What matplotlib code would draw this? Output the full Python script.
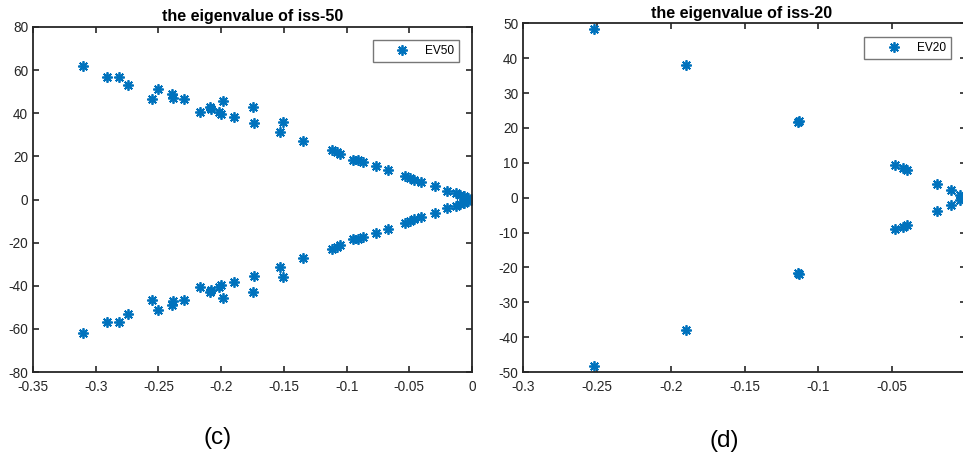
import matplotlib
matplotlib.use("Agg")
import matplotlib.pyplot as plt

plt.rcParams['font.family'] = ['Liberation Sans', 'DejaVu Sans']
plt.rcParams['axes.unicode_minus'] = False

# iss-50 eigenvalues (real, imag)
ev50_re = [-0.3105, -0.2913, -0.2817, -0.2746, -0.2549, -0.2507, -0.2390, -0.2384,
           -0.2299, -0.2166, -0.2087, -0.2081, -0.2017, -0.2004, -0.1986, -0.1898,
           -0.1749, -0.1741, -0.1534, -0.1510, -0.1350, -0.1114, -0.1079, -0.1053,
           -0.0952, -0.0912, -0.0872, -0.0766, -0.0670, -0.0532, -0.0494, -0.0463,
           -0.0409, -0.0292, -0.0197, -0.0130, -0.0096, -0.0061, -0.0030, -0.0010,
           -0.3105, -0.2913, -0.2817, -0.2746, -0.2549, -0.2507, -0.2390, -0.2384,
           -0.2299, -0.2166, -0.2087, -0.2081, -0.2017, -0.2004, -0.1986, -0.1898,
           -0.1749, -0.1741, -0.1534, -0.1510, -0.1350, -0.1114, -0.1079, -0.1053,
           -0.0952, -0.0912, -0.0872, -0.0766, -0.0670, -0.0532, -0.0494, -0.0463,
           -0.0409, -0.0292, -0.0197, -0.0130, -0.0096, -0.0061, -0.0030, -0.0010]
ev50_im = [62.0, 56.6, 56.6, 53.0, 46.8, 51.2, 48.8, 47.3,
           46.4, 40.5, 43.0, 42.1, 40.6, 39.6, 45.8, 38.4,
           43.0, 35.4, 31.2, 35.8, 27.3, 22.9, 22.2, 21.3,
           18.5, 18.4, 17.6, 15.7, 13.9, 11.1, 10.1, 9.2,
           8.3, 6.1, 3.9, 3.1, 2.3, 1.4, 0.6, 0.1,
           -62.0, -56.6, -56.6, -53.0, -46.8, -51.2, -48.8, -47.3,
           -46.4, -40.5, -43.0, -42.1, -40.6, -39.6, -45.8, -38.4,
           -43.0, -35.4, -31.2, -35.8, -27.3, -22.9, -22.2, -21.3,
           -18.5, -18.4, -17.6, -15.7, -13.9, -11.1, -10.1, -9.2,
           -8.3, -6.1, -3.9, -3.1, -2.3, -1.4, -0.6, -0.1]

# iss-20 eigenvalues (real, imag)
ev20_re = [-0.2518, -0.1899, -0.1137, -0.1133, -0.0478, -0.0424, -0.0401, -0.0196, -0.0103, -0.0041,
           -0.2518, -0.1899, -0.1137, -0.1133, -0.0478, -0.0424, -0.0401, -0.0196, -0.0103, -0.0041]
ev20_im = [48.3, 38.0, 21.6, 21.9, 9.5, 8.4, 7.9, 4.0, 2.2, 0.9,
           -48.3, -38.0, -21.6, -21.9, -9.0, -8.3, -7.8, -3.7, -2.0, -0.8]

titles = ["the eigenvalue of iss-50", "the eigenvalue of iss-20"]
labels = ["EV50", "EV20"]
captions = ["(c)", "(d)"]

blue = '#0072BD'
fig = plt.figure(figsize=(9.63, 4.57), dpi=100)
ax1 = fig.add_axes([33/963, 85/457, 439/963, 345/457])
ax2 = fig.add_axes([523/963, 85/457, 443/963, 348.7/457])

def style(ax):
    for s in ax.spines.values():
        s.set_linewidth(1.3)
        s.set_color('#262626')
    ax.tick_params(direction='in', top=True, right=True, length=4, width=1.2,
                   labelsize=9.8, colors='#262626', pad=3.5)
    ax.tick_params(axis='x', pad=5.5)

ax1.plot(ev50_re, ev50_im, linestyle='none', marker=(8, 2, 0), ms=7.5, mew=1.3,
         color=blue, label=labels[0])
ax1.set_xlim(-0.35, 0)
ax1.set_ylim(-80, 80)
ax1.set_xticks([-0.35, -0.3, -0.25, -0.2, -0.15, -0.1, -0.05, 0])
ax1.set_xticklabels(['-0.35', '-0.3', '-0.25', '-0.2', '-0.15', '-0.1', '-0.05', '0'])
ax1.set_yticks([-80, -60, -40, -20, 0, 20, 40, 60, 80])
style(ax1)
ax1.set_title(titles[0], fontsize=11.5, fontweight='bold', pad=4)

ax2.plot(ev20_re, ev20_im, linestyle='none', marker=(8, 2, 0), ms=7.5, mew=1.3,
         color=blue, label=labels[1])
ax2.set_xlim(-0.3, 0)
ax2.set_ylim(-50, 50)
ax2.set_xticks([-0.3, -0.25, -0.2, -0.15, -0.1, -0.05, 0])
ax2.set_xticklabels(['-0.3', '-0.25', '-0.2', '-0.15', '-0.1', '-0.05', '0'])
ax2.set_yticks([-50, -40, -30, -20, -10, 0, 10, 20, 30, 40, 50])
style(ax2)
ax2.set_title(titles[1], fontsize=11.5, fontweight='bold', pad=4, x=0.5 - 3/443)

for ax, pos in [(ax1, ((372.5 - 33) / 439, (372 - 40) / 345)),
                (ax2, ((864 - 523) / 443, (372 - 37) / 348.7))]:
    leg = ax.legend(loc='upper left', bbox_to_anchor=pos, fontsize=8.6, frameon=True,
                    fancybox=False, borderpad=0.42, handletextpad=-0.1,
                    handlelength=4.1, borderaxespad=0)
    leg.get_frame().set_edgecolor('#555555')
    leg.get_frame().set_linewidth(1.0)

fig.text(218/963, 1 - 438/457, captions[0], fontsize=17.5, ha='center', va='center')
fig.text(724/963, 1 - 441/457, captions[1], fontsize=17.5, ha='center', va='center')

fig.savefig('out.png', dpi=100)
